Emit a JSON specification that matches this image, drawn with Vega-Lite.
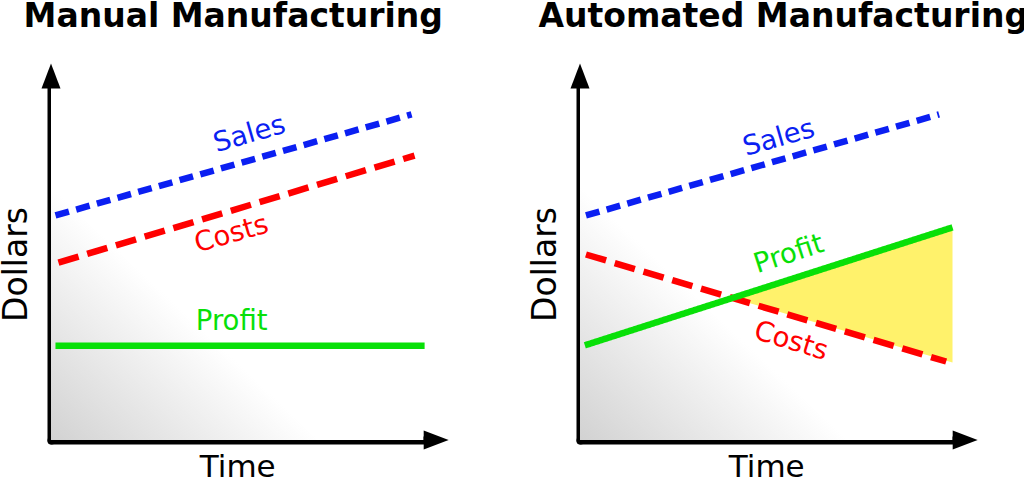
{
  "$schema": "https://vega.github.io/schema/vega-lite/v6.json",
  "background": "white",
  "padding": {"left": 0, "top": 0, "right": 0, "bottom": 0},
  "datasets": {
    "leftLines": [
      {"series": "Sales", "t": 0.12, "v": 6.38},
      {"series": "Sales", "t": 9.68, "v": 9.25},
      {"series": "Costs", "t": 0.2, "v": 5.04},
      {"series": "Costs", "t": 9.76, "v": 8.08},
      {"series": "Profit", "t": 0.12, "v": 2.68},
      {"series": "Profit", "t": 10.03, "v": 2.68}
    ],
    "rightLines": [
      {"series": "Sales", "t": 0.16, "v": 6.38},
      {"series": "Sales", "t": 9.64, "v": 9.25},
      {"series": "Costs", "t": 0.16, "v": 5.27},
      {"series": "Costs", "t": 9.83, "v": 2.23},
      {"series": "Profit", "t": 0.13, "v": 2.69},
      {"series": "Profit", "t": 10.0, "v": 6.04}
    ],
    "leftLabels": [
      {"series": "Sales", "t": 5.33, "v": 8.68},
      {"series": "Costs", "t": 4.85, "v": 5.84},
      {"series": "Profit", "t": 4.85, "v": 3.34}
    ],
    "rightLabels": [
      {"series": "Sales", "t": 5.34, "v": 8.57},
      {"series": "Profit", "t": 5.61, "v": 5.27},
      {"series": "Costs", "t": 5.66, "v": 2.8}
    ],
    "gain": [
      {"t": 4.19, "top": 4.0, "bottom": 4.0},
      {"t": 10.0, "top": 6.04, "bottom": 2.2}
    ],
    "arrows": [
      {"dir": "up", "t": 0, "v": 10.34},
      {"dir": "right", "t": 10.34, "v": 0}
    ]
  },
  "hconcat": [
    {
      "width": 372.5,
      "height": 352,
      "title": {"text": "Manual Manufacturing", "dx": -4},
      "layer": [
        {
          "data": {"values": [{}]},
          "mark": {"type": "rect", "strokeWidth": 0, "fill": {"gradient": "linear", "x1": 0, "y1": 1, "x2": 1, "y2": 0, "stops": [{"offset": 0, "color": "#d2d2d2"}, {"offset": 0.36, "color": "#ffffff"}, {"offset": 1, "color": "#ffffff"}]}},
          "encoding": {
            "x": {"datum": 0, "type": "quantitative", "scale": {"domain": [0, 10]}, "axis": {"title": "Time"}},
            "x2": {"datum": 10},
            "y": {"datum": 0, "type": "quantitative", "scale": {"domain": [0, 10]}, "axis": {"title": "Dollars"}},
            "y2": {"datum": 10}
          }
        },
        {
          "data": {"name": "leftLines"},
          "mark": {"type": "line", "strokeWidth": 6.5, "strokeCap": "butt", "clip": false},
          "encoding": {
            "x": {"field": "t", "type": "quantitative"},
            "y": {"field": "v", "type": "quantitative"},
            "color": {"field": "series", "type": "nominal", "scale": {"domain": ["Sales", "Costs", "Profit"], "range": ["#0b1ff2", "#ff0000", "#08e008"]}, "legend": null},
            "strokeDash": {"field": "series", "type": "nominal", "scale": {"domain": ["Sales", "Costs", "Profit"], "range": [[14, 7.5], [21, 9], [1, 0]]}, "legend": null}
          }
        },
        {
          "data": {"name": "leftLabels"},
          "transform": [{"filter": "datum.series !== 'Profit'"}],
          "mark": {"type": "text", "angle": -16, "font": "DejaVu Sans", "fontSize": 27.5, "align": "center", "baseline": "middle"},
          "encoding": {
            "x": {"field": "t", "type": "quantitative"},
            "y": {"field": "v", "type": "quantitative"},
            "text": {"field": "series"},
            "color": {"field": "series", "type": "nominal", "scale": {"domain": ["Sales", "Costs", "Profit"], "range": ["#0b1ff2", "#ff0000", "#08e008"]}, "legend": null}
          }
        },
        {
          "data": {"name": "leftLabels"},
          "transform": [{"filter": "datum.series === 'Profit'"}],
          "mark": {"type": "text", "angle": 0, "font": "DejaVu Sans", "fontSize": 27.5, "align": "center", "baseline": "middle"},
          "encoding": {
            "x": {"field": "t", "type": "quantitative"},
            "y": {"field": "v", "type": "quantitative"},
            "text": {"field": "series"},
            "color": {"field": "series", "type": "nominal", "scale": {"domain": ["Sales", "Costs", "Profit"], "range": ["#0b1ff2", "#ff0000", "#08e008"]}, "legend": null}
          }
        },
        {
          "data": {"name": "arrows"},
          "transform": [{"filter": "datum.dir === 'up'"}],
          "mark": {"type": "point", "shape": "M 0 -1 L -0.76 1 L 0.76 1 Z", "size": 625, "filled": true, "color": "black", "opacity": 1, "strokeWidth": 0, "clip": false},
          "encoding": {
            "x": {"field": "t", "type": "quantitative"},
            "y": {"field": "v", "type": "quantitative"}
          }
        },
        {
          "data": {"name": "arrows"},
          "transform": [{"filter": "datum.dir === 'right'"}],
          "mark": {"type": "point", "shape": "M 1 0 L -1 -0.76 L -1 0.76 Z", "size": 625, "filled": true, "color": "black", "opacity": 1, "strokeWidth": 0, "clip": false},
          "encoding": {
            "x": {"field": "t", "type": "quantitative"},
            "y": {"field": "v", "type": "quantitative"}
          }
        }
      ]
    },
    {
      "width": 372.5,
      "height": 352,
      "title": {"text": "Automated Manufacturing", "dx": 17},
      "layer": [
        {
          "data": {"values": [{}]},
          "mark": {"type": "rect", "strokeWidth": 0, "fill": {"gradient": "linear", "x1": 0, "y1": 1, "x2": 1, "y2": 0, "stops": [{"offset": 0, "color": "#d2d2d2"}, {"offset": 0.36, "color": "#ffffff"}, {"offset": 1, "color": "#ffffff"}]}},
          "encoding": {
            "x": {"datum": 0, "type": "quantitative", "scale": {"domain": [0, 10]}, "axis": {"title": "Time"}},
            "x2": {"datum": 10},
            "y": {"datum": 0, "type": "quantitative", "scale": {"domain": [0, 10]}, "axis": {"title": "Dollars"}},
            "y2": {"datum": 10}
          }
        },
        {
          "data": {"name": "gain"},
          "mark": {"type": "area", "color": "#fff26b", "opacity": 1, "clip": false},
          "encoding": {
            "x": {"field": "t", "type": "quantitative"},
            "y": {"field": "top", "type": "quantitative"},
            "y2": {"field": "bottom"}
          }
        },
        {
          "data": {"name": "rightLines"},
          "mark": {"type": "line", "strokeWidth": 6.5, "strokeCap": "butt", "clip": false},
          "encoding": {
            "x": {"field": "t", "type": "quantitative"},
            "y": {"field": "v", "type": "quantitative"},
            "color": {"field": "series", "type": "nominal", "scale": {"domain": ["Sales", "Costs", "Profit"], "range": ["#0b1ff2", "#ff0000", "#08e008"]}, "legend": null},
            "strokeDash": {"field": "series", "type": "nominal", "scale": {"domain": ["Sales", "Costs", "Profit"], "range": [[14, 7.5], [21, 9], [1, 0]]}, "legend": null}
          }
        },
        {
          "data": {"name": "rightLabels"},
          "transform": [{"filter": "datum.series === 'Sales'"}],
          "mark": {"type": "text", "angle": -16, "font": "DejaVu Sans", "fontSize": 27.5, "align": "center", "baseline": "middle"},
          "encoding": {
            "x": {"field": "t", "type": "quantitative"},
            "y": {"field": "v", "type": "quantitative"},
            "text": {"field": "series"},
            "color": {"field": "series", "type": "nominal", "scale": {"domain": ["Sales", "Costs", "Profit"], "range": ["#0b1ff2", "#ff0000", "#08e008"]}, "legend": null}
          }
        },
        {
          "data": {"name": "rightLabels"},
          "transform": [{"filter": "datum.series === 'Profit'"}],
          "mark": {"type": "text", "angle": -18, "font": "DejaVu Sans", "fontSize": 27.5, "align": "center", "baseline": "middle"},
          "encoding": {
            "x": {"field": "t", "type": "quantitative"},
            "y": {"field": "v", "type": "quantitative"},
            "text": {"field": "series"},
            "color": {"field": "series", "type": "nominal", "scale": {"domain": ["Sales", "Costs", "Profit"], "range": ["#0b1ff2", "#ff0000", "#08e008"]}, "legend": null}
          }
        },
        {
          "data": {"name": "rightLabels"},
          "transform": [{"filter": "datum.series === 'Costs'"}],
          "mark": {"type": "text", "angle": 17, "font": "DejaVu Sans", "fontSize": 27.5, "align": "center", "baseline": "middle"},
          "encoding": {
            "x": {"field": "t", "type": "quantitative"},
            "y": {"field": "v", "type": "quantitative"},
            "text": {"field": "series"},
            "color": {"field": "series", "type": "nominal", "scale": {"domain": ["Sales", "Costs", "Profit"], "range": ["#0b1ff2", "#ff0000", "#08e008"]}, "legend": null}
          }
        },
        {
          "data": {"name": "arrows"},
          "transform": [{"filter": "datum.dir === 'up'"}],
          "mark": {"type": "point", "shape": "M 0 -1 L -0.76 1 L 0.76 1 Z", "size": 625, "filled": true, "color": "black", "opacity": 1, "strokeWidth": 0, "clip": false},
          "encoding": {
            "x": {"field": "t", "type": "quantitative"},
            "y": {"field": "v", "type": "quantitative"}
          }
        },
        {
          "data": {"name": "arrows"},
          "transform": [{"filter": "datum.dir === 'right'"}],
          "mark": {"type": "point", "shape": "M 1 0 L -1 -0.76 L -1 0.76 Z", "size": 625, "filled": true, "color": "black", "opacity": 1, "strokeWidth": 0, "clip": false},
          "encoding": {
            "x": {"field": "t", "type": "quantitative"},
            "y": {"field": "v", "type": "quantitative"}
          }
        }
      ]
    }
  ],
  "spacing": 156,
  "bounds": "flush",
  "config": {
    "view": {"stroke": null},
    "title": {"font": "DejaVu Sans", "fontSize": 33, "fontWeight": "bold", "color": "black", "anchor": "middle", "frame": "group", "baseline": "alphabetic", "offset": 30},
    "axis": {"ticks": false, "labels": false, "grid": false, "domainColor": "black", "domainWidth": 8, "domainCap": "round", "titleFont": "DejaVu Sans", "titleFontWeight": "normal", "titleColor": "black"},
    "axisX": {"titleFontSize": 31, "titlePadding": 12},
    "axisY": {"titleFontSize": 33, "titlePadding": 17.5}
  }
}
